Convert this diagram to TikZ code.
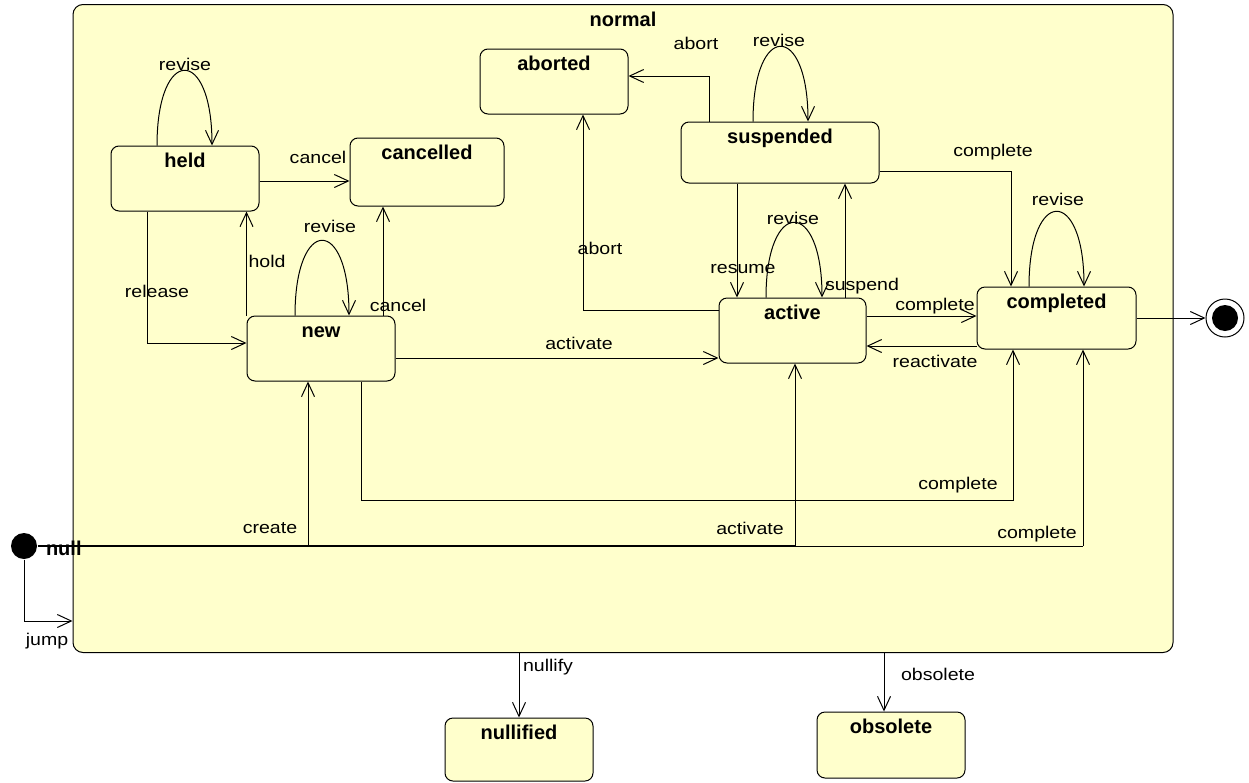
\documentclass[tikz,border=0pt]{standalone}
\usepackage{fontspec}
\setmainfont{Liberation Sans}[FakeStretch=1.15]
\newfontfamily\statefont{Liberation Sans}
\usetikzlibrary{arrows.meta}
\definecolor{statefill}{RGB}{255,255,204}

\begin{document}
\begin{tikzpicture}[x=1pt, y=-1pt, line width=1pt,
		state/.style={draw, fill=statefill, rounded corners=8pt, inner sep=0pt},
		bold/.style={font=\statefont\bfseries\fontsize{20}{24}\selectfont, inner sep=0pt},
		title/.style={bold, anchor=base, yshift=-22pt},
		lbl/.style={font=\fontsize{17}{20}\selectfont, inner sep=0pt},
		trans/.style={-{Straight Barb[length=14pt, width=13pt]}}]
	\useasboundingbox (0,0) rectangle (1249,782);
	\node[state, rounded corners=10pt, minimum width=1100, minimum height=648, label={[title]north:normal}] (normal) at (623,328.5) {};
	\node[state, minimum width=148, minimum height=65, label={[title]north:held}] (held) at (185,178.5) {};
	\node[state, minimum width=154, minimum height=68, label={[title]north:cancelled}] (cancelled) at (427,172) {};
	\node[state, minimum width=148, minimum height=65, label={[title]north:aborted}] (aborted) at (554,81.5) {};
	\node[state, minimum width=198, minimum height=61, label={[title]north:suspended}] (suspended) at (780,152.5) {};
	\node[state, minimum width=148, minimum height=65, label={[title]north:new}] (new) at (321,348.5) {};
	\node[state, minimum width=147, minimum height=65, label={[title]north:active}] (active) at (792.5,330.5) {};
	\node[state, minimum width=159, minimum height=62, label={[title]north:completed}] (completed) at (1056.5,318) {};
	\node[state, minimum width=148, minimum height=63, label={[title]north:nullified}] (nullified) at (519,749.5) {};
	\node[state, minimum width=148, minimum height=66, label={[title]north:obsolete}] (obsolete) at (891,745) {};
	\node[circle, fill=black, minimum size=26, inner sep=0pt] (init) at (24,546) {};
	\node[circle, draw, fill=white, minimum size=38, inner sep=0pt] (final) at (1225,318) {};
	\fill (final.center) circle (13pt);
	\node[bold, anchor=base west] (nulltext) at ([xshift=8pt, yshift=-9pt]init.east) {null};

	\draw[trans] ([xshift=-28]held.north) .. controls +(0,-100) and +(0,-100) .. ([xshift=27]held.north);
	\draw[trans] ([xshift=-26]new.north) .. controls +(0,-100) and +(0,-100) .. ([xshift=28]new.north);
	\draw[trans] ([xshift=-27]suspended.north) .. controls +(0,-100) and +(0,-100) .. ([xshift=28]suspended.north);
	\draw[trans] ([xshift=-26.5]active.north) .. controls +(0,-100) and +(0,-100) .. ([xshift=29.5]active.north);
	\draw[trans] ([xshift=-27.5]completed.north) .. controls +(0,-100) and +(0,-100) .. ([xshift=27.5]completed.north);

	\coordinate (hc) at ([yshift=-2.5]held.east);
	\draw[trans] (hc) -- (hc -| cancelled.west);
	\draw[trans] ([xshift=-38]held.south) |- ([yshift=5.5]new.west);
	\draw[trans] (new.north west) -- (new.north west |- held.south);
	\coordinate (nc) at ([xshift=62]new.north);
	\draw[trans] (nc) -- (nc |- cancelled.south);
	\coordinate (na) at ([yshift=-9.5]new.east);
	\draw[trans] (na) -- (na -| active.west);
	\draw[trans] ([xshift=40]new.south) -- ++(0,119) -| ([xshift=-43.5]completed.south);
	\draw[trans] ([yshift=20.5]active.west) -| ([xshift=29]aborted.south);
	\draw[trans] ([xshift=-71]suspended.north) |- ([yshift=5.5]aborted.east);
	\coordinate (sr) at ([xshift=-43]suspended.south);
	\draw[trans] (sr) -- (sr |- active.north);
	\coordinate (as) at ([xshift=52.5]active.north);
	\draw[trans] (as) -- (as |- suspended.south);
	\draw[trans] ([yshift=-18.5]suspended.east) -| ([xshift=-45.5]completed.north);
	\coordinate (ac) at ([yshift=14.5]active.east);
	\draw[trans] (ac) -- (ac -| completed.west);
	\coordinate (ca) at ([yshift=-28]completed.west);
	\draw[trans] (ca) -- (ca -| active.east);
	\draw[trans] (completed) -- (final);
	\draw[trans] (normal.south -| nullified.north) -- (nullified.north);
	\coordinate (ob) at ([xshift=-7]obsolete.north);
	\draw[trans] (ob |- normal.south) -- (ob);

	\coordinate (cr) at ([xshift=-13]new.south);
	\coordinate (av) at ([xshift=2.5]active.south);
	\coordinate (cp) at ([xshift=26.5]completed.south);
	\draw[line width=2.5pt] (init.east) -- (init.east -| av);
	\draw (init.east -| av) -- (init.east -| cp);
	\draw[trans] (init.east -| cr) -- (cr);
	\draw[trans] (init.east -| av) -- (av);
	\draw[trans] (init.east -| cp) -- (cp);
	\draw[trans] (init) |- ([yshift=-292.5]normal.west);

	\node[lbl] (l-cancel) at (318,157) {cancel};
	\node[lbl] (l-release) at (157,291) {release};
	\node[lbl] (l-hold) at (267,261) {hold};
	\node[lbl] (l-cancel2) at (398,305) {cancel};
	\node[lbl] (l-revise1) at (185,64) {revise};
	\node[lbl] (l-revise2) at (330,226) {revise};
	\node[lbl] (l-activate) at (579,343) {activate};
	\node[lbl] (l-complete1) at (958,485) {complete};
	\node[lbl] (l-create) at (270,528) {create};
	\node[lbl] (l-activate2) at (750,528) {activate};
	\node[lbl] (l-complete2) at (1037,534) {complete};
	\node[lbl] (l-jump) at (47,641) {jump};
	\node[lbl] (l-abort1) at (600,248) {abort};
	\node[lbl] (l-abort2) at (696,43) {abort};
	\node[lbl] (l-revise3) at (779,40) {revise};
	\node[lbl] (l-resume) at (743,269) {resume};
	\node[lbl] (l-suspend) at (862,286) {suspend};
	\node[lbl] (l-revise4) at (793,218) {revise};
	\node[lbl] (l-complete3) at (993,152) {complete};
	\node[lbl] (l-complete4) at (935,306) {complete};
	\node[lbl] (l-reactivate) at (935,361) {reactivate};
	\node[lbl] (l-revise5) at (1058,199) {revise};
	\node[lbl] (l-nullify) at (548,667) {nullify};
	\node[lbl] (l-obsolete) at (938,674) {obsolete};
\end{tikzpicture}
\end{document}
